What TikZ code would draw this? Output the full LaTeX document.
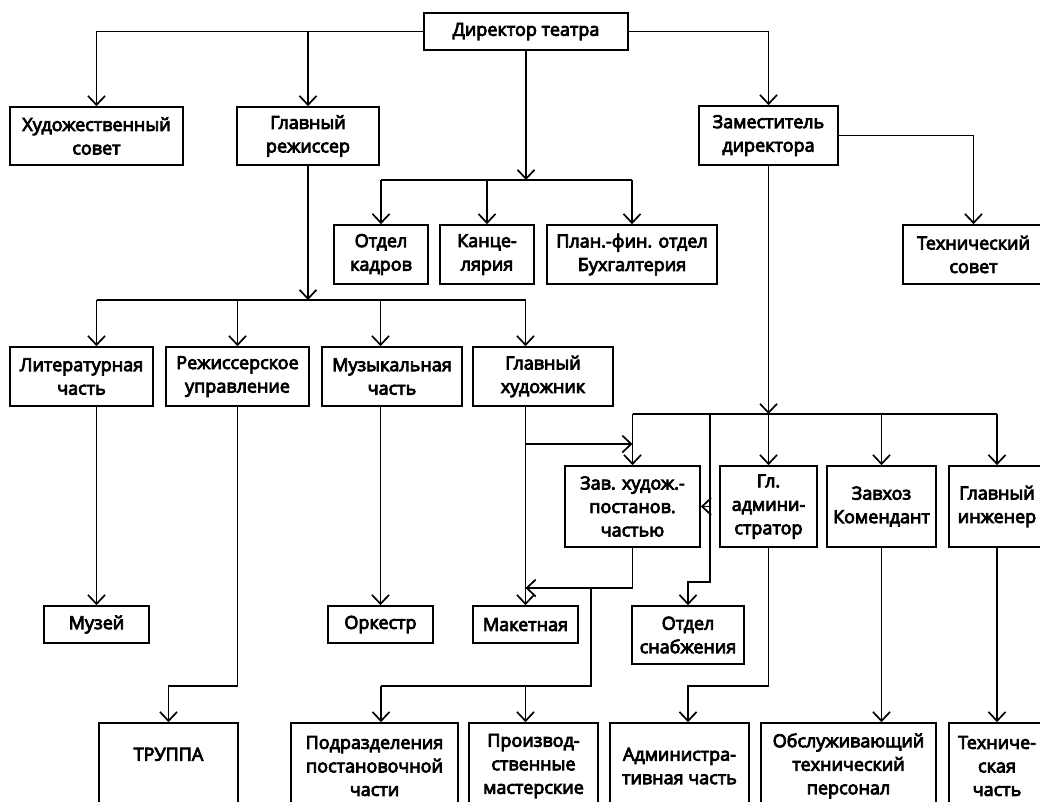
\documentclass[tikz,border=0pt]{standalone}
\usepackage{fontspec}
\setmainfont{Open Sans}
\newfontfamily\boxfont{Open Sans}[FakeBold=4.5]
\usetikzlibrary{arrows.meta}
\newcommand\bx[6]{\node[box, minimum width={(#4-#2)*1pt}, minimum height={(#5-#3)*1pt}] (#1) at ({(#2+#4)/2},{(#3+#5)/2}) {#6};}
\begin{document}
\begin{tikzpicture}[x=1pt,y=-1pt,
  box/.style={draw, line width=1.7pt, inner sep=0pt, align=center, font=\boxfont\fontsize{18}{23.5}\selectfont},
  arr/.style={-{Straight Barb[length=9pt,width=17pt]}, line width=1.7pt},
  ln/.style={line width=1.7pt}]
\useasboundingbox (0,0) rectangle (1040,801);
% boxes
\bx{dir}{424}{13}{628}{50}{Директор театра}
\bx{hs}{10}{107}{183}{165}{Художественный\\совет}
\bx{gr}{237}{107}{379}{165}{Главный\\режиссер}
\bx{zam}{699}{106}{838}{165}{Заместитель\\директора}
\bx{ok}{334}{225}{428}{284}{Отдел\\кадров}
\bx{kn}{440}{225}{534}{284}{Канце-\\лярия}
\bx{pf}{547}{225}{717}{284}{План.-фин. отдел\\Бухгалтерия}
\bx{ts}{903}{225}{1044}{284}{Технический\\совет}
\bx{lc}{10}{347}{153}{406}{Литературная\\часть}
\bx{rm}{166}{347}{309}{406}{Режиссерское\\управление}
\bx{mc}{322}{347}{462}{406}{Музыкальная\\часть}
\bx{gh}{473}{347}{613}{406}{Главный\\художник}
\bx{zav}{565}{466}{700}{547}{Зав. худож.-\\постанов.\\частью}
\bx{ga}{720}{466}{817}{547}{Гл.\\админи-\\стратор}
\bx{zk}{827}{466}{936}{547}{Завхоз\\Комендант}
\bx{gi}{949}{466}{1045}{547}{Главный\\инженер}
\bx{muz}{44}{606}{149}{643}{Музей}
\bx{ork}{328}{606}{433}{643}{Оркестр}
\bx{mak}{473}{606}{578}{643}{Макетная}
\bx{os}{632}{606}{744}{664}{Отдел\\снабжения}
\bx{trup}{99}{723}{238}{809}{ТРУППА\\~}
\bx{pp}{291}{723}{458}{809}{Подразделения\\постановочной\\части}
\bx{pm}{469}{723}{598}{809}{Производ-\\ственные\\мастерские}
\bx{adm}{610}{723}{749}{809}{Администра-\\тивная часть}
\bx{ob}{761}{723}{936}{809}{Обслуживающий\\технический\\персонал}
\bx{tc}{949}{723}{1045}{809}{Техниче-\\ская\\часть}
% director level
\draw[arr] (dir.west) -| (hs.north);
\draw[arr] (gr.north |- dir.west) -- (gr.north);
\draw[arr] (dir.east) -| (zam.north);
\coordinate (b1) at (526,180);
\draw[arr] (dir.south) -- (b1);
\draw[ln] (ok.north |- b1) -- (pf.north |- b1);
\foreach \n in {ok,kn,pf} \draw[arr] (\n.north |- b1) -- (\n.north);
\draw[arr] (zam.east) -| (ts.north);
% main director branch
\coordinate (b2) at (308,300);
\draw[arr] (gr.south) -- (b2);
\draw[ln] (muz.north |- b2) -- (mak.north |- b2);
\draw[arr] (muz.north |- b2) -- (muz.north |- lc.north);
\draw[arr] (rm.north |- b2) -- (rm.north);
\draw[arr] (ork.north |- b2) -- (ork.north |- mc.north);
\draw[arr] (mak.north |- b2) -- (mak.north |- gh.north);
\draw[arr] (muz.north |- lc.south) -- (muz.north);
\coordinate (t1) at (168.5,686);
\draw[arr] (rm.south) |- (t1) -- (trup.north);
\draw[arr] (ork.north |- mc.south) -- (ork.north);
\draw[arr] (mak.north |- gh.south) -- (mak.north);
\coordinate (h1) at (525.5,444);
\draw[arr] (h1) -- (zav.north |- h1);
% deputy branch
\coordinate (b3) at (768.5,414);
\draw[arr] (zam.south) -- (b3);
\draw[ln] (zav.north |- b3) -- (gi.north |- b3);
\foreach \n in {zav,ga,zk,gi} \draw[arr] (\n.north |- b3) -- (\n.north);
\coordinate (s1) at (710,414);
\coordinate (s2) at (710,582);
\draw[arr] (s1) -- (s2) -| (os.north);
\draw[arr] (s1 |- zav.east) -- (zav.east);
\coordinate (m1) at (525.5,588);
\draw[arr] (zav.south) |- (m1);
\coordinate (p1) at (591,588);
\coordinate (p3) at (381,686);
\draw[ln] (p1) |- (p3);
\draw[arr] (p3) -- (p3 |- pp.north);
\draw[arr] (m1 |- p3) -- (m1 |- pm.north);
\coordinate (g1) at (688,686);
\draw[arr] (ga.south) |- (g1) -- (g1 |- adm.north);
\draw[arr] (zk.south) -- (zk.south |- ob.north);
\draw[arr] (gi.south) -- (gi.south |- tc.north);
\end{tikzpicture}
\end{document}
